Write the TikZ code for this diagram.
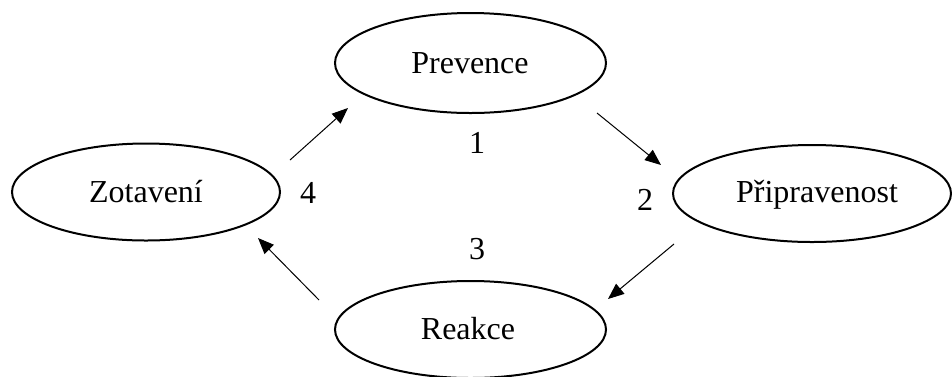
\documentclass[tikz,border=0pt]{standalone}
\usepackage{fontspec}
\setmainfont{Liberation Serif}
\usetikzlibrary{shapes.geometric,arrows.meta}
\begin{document}
\begin{tikzpicture}[x=1pt,y=-1pt,
  phase/.style={draw,line width=2pt,ellipse,inner sep=0pt},
  ph/.style={font=\fontsize{32}{38}\selectfont},
  num/.style={font=\fontsize{32}{38}\selectfont,anchor=base,inner sep=0pt},
  conn/.style={line width=1pt,-{Triangle[length=16pt,width=13pt]}}]
\useasboundingbox (0,0) rectangle (952,376);
\node[phase,minimum width=271pt,minimum height=100pt] (prev) at (470.5,63) {};
\node[phase,minimum width=268pt,minimum height=97pt] (zot) at (146,192) {};
\node[phase,minimum width=278pt,minimum height=97pt] (prip) at (812,193.5) {};
\node[phase,minimum width=271pt,minimum height=97pt] (reak) at (470.5,329.5) {};
\node[ph,anchor=base,inner sep=0pt] (tprev) at (470,73) {Prevence};
\node[ph,anchor=base,inner sep=0pt] (tzot) at (146,202) {Zotavení};
\node[ph,anchor=base,inner sep=0pt] (tprip) at (817,202) {Připravenost};
\node[ph,anchor=base,inner sep=0pt] (treak) at (468,339) {Reakce};
\node[num] (n1) at (477,153) {1};
\node[num] (n2) at (645,210) {2};
\node[num] (n3) at (477,259) {3};
\node[num] (n4) at (308,203) {4};
\coordinate (a1s) at (290,160); \coordinate (a1e) at (348,108);
\coordinate (a2s) at (597,113); \coordinate (a2e) at (661,165);
\coordinate (a3s) at (674,244); \coordinate (a3e) at (608,299);
\coordinate (a4s) at (319,300); \coordinate (a4e) at (258,238);
\draw[conn] (a1s) -- (a1e);
\draw[conn] (a2s) -- (a2e);
\draw[conn] (a3s) -- (a3e);
\draw[conn] (a4s) -- (a4e);
\end{tikzpicture}
\end{document}
